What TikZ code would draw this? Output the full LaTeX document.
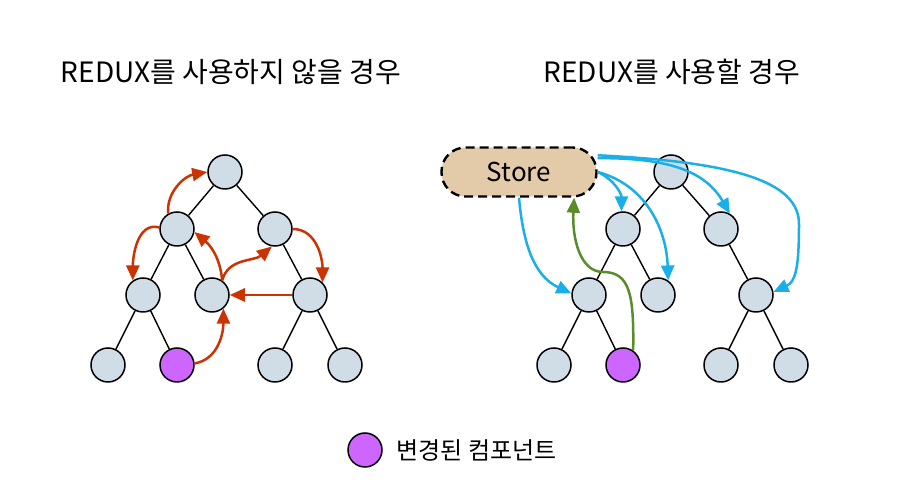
\documentclass[tikz,border=0pt]{standalone}
\usepackage{fontspec}
\setmainfont{Noto Sans CJK KR}
\usetikzlibrary{positioning,arrows.meta}

\definecolor{compfill}{HTML}{D1DDE6}
\definecolor{changedfill}{HTML}{CC66FF}
\definecolor{storefill}{HTML}{E3CBA9}
\definecolor{propred}{HTML}{CC3300}
\definecolor{subblue}{HTML}{1AAFE8}
\definecolor{dispgreen}{HTML}{5B8C2A}

\tikzset{
  comp/.style={circle, draw=black, line width=1.5pt, fill=compfill, minimum size=34pt, inner sep=0pt},
  changed/.style={comp, fill=changedfill},
  branch/.style={line width=1.4pt},
  flow/.style={line width=2.5pt, -{Triangle[length=15pt,width=13pt]}},
  storebox/.style={draw=black, fill=storefill, line width=2.4pt, dash pattern=on 9pt off 5pt,
    rounded corners=24pt, minimum width=155pt, minimum height=49pt, font=\fontsize{26}{30}\selectfont},
  title/.style={font=\fontsize{28}{32}\selectfont}
}

\newcommand\comptree[1]{%
  \node[comp] (#1a) {};
  \node[comp, below left=57pt and 48pt of #1a] (#1b) {};
  \node[comp, below right=57pt and 50pt of #1a] (#1c) {};
  \node[comp, below left=66pt and 34pt of #1b] (#1d) {};
  \node[comp, below right=66pt and 35pt of #1b] (#1e) {};
  \node[comp, below right=66pt and 35pt of #1c] (#1f) {};
  \node[comp, below left=70pt and 35pt of #1d] (#1g) {};
  \node[changed, below right=70pt and 34pt of #1d] (#1h) {};
  \node[comp, below left=70pt and 35pt of #1f] (#1i) {};
  \node[comp, below right=70pt and 35pt of #1f] (#1j) {};
  \draw[branch] (#1a) -- (#1b) (#1a) -- (#1c) (#1b) -- (#1d) (#1b) -- (#1e) (#1c) -- (#1f)
    (#1d) -- (#1g) (#1d) -- (#1h) (#1f) -- (#1i) (#1f) -- (#1j);
}

\begin{document}
\begin{tikzpicture}[x=1pt, y=1pt, on grid]
\useasboundingbox (0,0) rectangle (900,500);

\node[title] (titleL) at (231,428) {REDUX를 사용하지 않을 경우};
\node[title] (titleR) at (672,428) {REDUX를 사용할 경우};

\begin{scope}[shift={(225,328)}]
\comptree{L}
\end{scope}
\begin{scope}[shift={(671,328)}]
\comptree{R}
\end{scope}

\node[storebox] (store) at (519,328) {Store};

\draw[flow, propred] (Lb.120) to[out=95,in=190] (La.180);
\draw[flow, propred] (Lb.175) to[out=165,in=90] (Ld.125);
\draw[flow, propred] (Le.55) to[out=95,in=-40] (Lb.-10);
\draw[flow, propred] (Le.55) to[out=75,in=220] (Lc.-100);
\draw[flow, propred] (Lc.0) to[out=0,in=90] (Lf.45);
\draw[flow, propred] (Lf.180) -- (Le.0);
\draw[flow, propred] (Lh.5) to[out=10,in=-90] (Le.-50);

\draw[flow, subblue] (store.south) to[out=-85,in=155] (Rd.175);
\draw[flow, subblue] (store.east) to[out=-25,in=90] (Rb.95);
\draw[flow, subblue] (store.east) to[out=-15,in=92] (Re.55);
\draw[flow, subblue] (store.10) to[out=0,in=120] (Rc.60);
\draw[flow, subblue] (store.12) .. controls (730,338) and (800,320) .. (799,275)
  .. controls (799,230) and (795,218) .. (Rf.10);

\draw[flow, dispgreen] (Rh.55) .. controls (634,205) and (630,228) .. (603,228)
  .. controls (580,228) and (572,262) .. (store.-25);

\node[changed] (legend) at (365,50) {};
\node[anchor=west, font=\fontsize{24}{28}\selectfont] (legendtext) at (393,50) {변경된 컴포넌트};
\end{tikzpicture}
\end{document}
